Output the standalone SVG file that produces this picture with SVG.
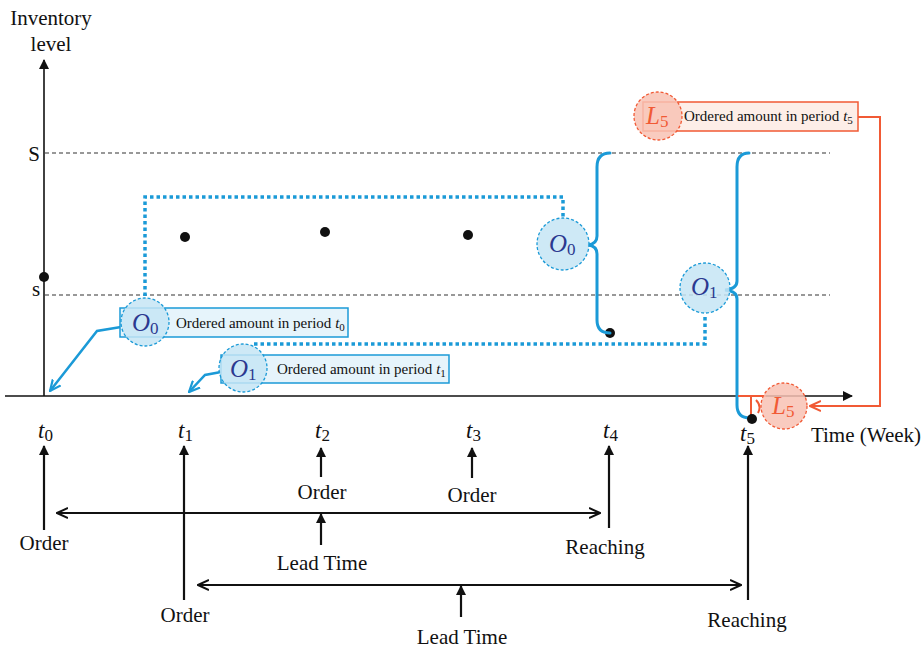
<svg xmlns="http://www.w3.org/2000/svg" width="923" height="648" viewBox="0 0 923 648">
<defs>
<style>
.t{font-family:"Liberation Serif","Times New Roman",serif;fill:#111;}
.lbl{font-size:21px;}
.ax{stroke:#111;stroke-width:1.6;fill:none;}
.ar{stroke:#111;stroke-width:2.2;fill:none;}
.dash{stroke:#333;stroke-width:1.2;stroke-dasharray:4 3;fill:none;}
.dot{stroke:#1b9ad7;stroke-width:3.5;stroke-dasharray:3.5 3;fill:none;}
.brace{stroke:#1b9ad7;stroke-width:3;fill:none;stroke-linecap:round;}
.bline{stroke:#1b9ad7;stroke-width:2.5;fill:none;}
.oline{stroke:#f15a35;stroke-width:2;fill:none;}
.bcirc{fill:#c6e5f5;fill-opacity:0.85;stroke:#1b9ad7;stroke-width:1.3;stroke-dasharray:3 2;}
.ocirc{fill:#f8c2b4;fill-opacity:0.85;stroke:#f15a35;stroke-width:1.3;stroke-dasharray:3 2;}
.bbox{fill:#e6f4fb;stroke:#1b9ad7;stroke-width:1.5;}
.obox{fill:#fdeee8;stroke:#f15a35;stroke-width:1.5;}
.ol{font-family:"Liberation Serif","Times New Roman",serif;font-style:italic;font-size:25px;fill:#2b3990;}
.ll{font-family:"Liberation Serif","Times New Roman",serif;font-style:italic;font-size:25px;fill:#f15a35;}
.sub{font-style:normal;font-size:17px;}
.note{font-family:"Liberation Serif","Times New Roman",serif;font-size:15px;fill:#111;}
.ti{font-family:"Liberation Serif","Times New Roman",serif;font-style:italic;font-size:23px;fill:#111;}
</style>
<marker id="ah" viewBox="0 0 10 10" refX="9" refY="5" markerWidth="10" markerHeight="10" markerUnits="userSpaceOnUse" orient="auto"><path d="M0,0 L10,5 L0,10 z" fill="#111"/></marker>
<marker id="ao" viewBox="0 0 12 12" refX="11" refY="6" markerWidth="12" markerHeight="12" markerUnits="userSpaceOnUse" orient="auto-start-reverse"><path d="M0,1 L11,6 L0,11" fill="none" stroke="#111" stroke-width="2"/></marker>
<marker id="ab" viewBox="0 0 12 12" refX="11" refY="6" markerWidth="12" markerHeight="12" markerUnits="userSpaceOnUse" orient="auto"><path d="M0,1 L11,6 L0,11" fill="none" stroke="#1b9ad7" stroke-width="2.2"/></marker>
<marker id="aor" viewBox="0 0 12 12" refX="11" refY="6" markerWidth="12" markerHeight="12" markerUnits="userSpaceOnUse" orient="auto"><path d="M0,1 L11,6 L0,11" fill="none" stroke="#f15a35" stroke-width="2"/></marker>
</defs>
<rect width="923" height="648" fill="#fff"/>

<g id="axes">
<line class="ax" x1="44" y1="396" x2="44" y2="60" marker-end="url(#ah)"/>
<line class="ax" x1="5" y1="396" x2="852" y2="396" marker-end="url(#ah)"/>
<text class="t lbl" x="51" y="25" text-anchor="middle">Inventory</text>
<text class="t lbl" x="51" y="51" text-anchor="middle">level</text>
<text class="t lbl" x="34" y="161" text-anchor="middle">S</text>
<text class="t lbl" x="36" y="296" text-anchor="middle">s</text>
<text class="t lbl" x="866" y="442" text-anchor="middle">Time (Week)</text>
<line class="dash" x1="45" y1="153" x2="830" y2="153"/>
<line class="dash" x1="45" y1="295" x2="830" y2="295"/>
</g>

<g id="points" fill="#111">
<circle cx="44" cy="277" r="5"/>
<circle cx="185" cy="237" r="5"/>
<circle cx="325" cy="232" r="5"/>
<circle cx="468" cy="235" r="5"/>
<circle cx="610" cy="333" r="5"/>
</g>

<g id="connectors">
<path class="dot" d="M145,296 L145,197 L563,197 L563,218"/>
<path class="dot" d="M254,344 L705,344 L705,314"/>
<path class="brace" d="M610,153 Q597,153 597,167 L597,236 Q597,244 588,245 Q597,246 597,254 L597,320 Q597,333 610,333"/>
<path class="brace" d="M749,153 Q737,153 737,167 L737,281 Q737,289 725,290 Q737,291 737,299 L737,405 Q737,418 750,418"/>
<path class="bline" d="M121,327 L97,331 L50,391" marker-end="url(#ab)"/>
<path class="bline" d="M221,372 L205,375 L189,392" marker-end="url(#ab)"/>
<path class="oline" d="M858,117 L880,117 L880,406 L810,406" marker-end="url(#aor)"/>
<path class="oline" d="M738,396 L766,396 M751,396 L751,417 M756,400 Q762,406 758,413"/>
</g>

<g id="t5dot"><circle cx="752" cy="419" r="5" fill="#111"/></g>

<g id="node-O0-note">
<rect class="bbox" x="120" y="308" width="228" height="29"/>
<circle class="bcirc" cx="145" cy="322" r="24"/>
<text class="ol" x="132" y="331">O<tspan class="sub" dy="3">0</tspan></text>
<text class="note" x="176" y="328">Ordered amount in period <tspan font-style="italic">t</tspan><tspan font-size="11" dy="3">0</tspan></text>
</g>

<g id="node-O1-note">
<rect class="bbox" x="221" y="355" width="228" height="28"/>
<circle class="bcirc" cx="243" cy="368" r="24"/>
<text class="ol" x="230" y="377">O<tspan class="sub" dy="3">1</tspan></text>
<text class="note" x="277" y="374">Ordered amount in period <tspan font-style="italic">t</tspan><tspan font-size="11" dy="3">1</tspan></text>
</g>

<g id="node-O0">
<circle class="bcirc" cx="563" cy="244" r="26"/>
<text class="ol" x="549" y="252">O<tspan class="sub" dy="3">0</tspan></text>
</g>

<g id="node-O1">
<circle class="bcirc" cx="705" cy="288" r="25"/>
<text class="ol" x="691" y="295">O<tspan class="sub" dy="3">1</tspan></text>
</g>

<g id="node-L5-note">
<rect class="obox" x="643" y="102" width="215" height="29"/>
<circle class="ocirc" cx="658" cy="116" r="24"/>
<text class="ll" x="646" y="124">L<tspan class="sub" dy="3">5</tspan></text>
<text class="note" x="684" y="121">Ordered amount in period <tspan font-style="italic">t</tspan><tspan font-size="11" dy="3">5</tspan></text>
</g>

<g id="node-L5">
<circle class="ocirc" cx="784" cy="406" r="23"/>
<text class="ll" x="772" y="414">L<tspan class="sub" dy="3">5</tspan></text>
</g>

<g id="time-labels">
<text class="ti" x="38" y="438">t<tspan class="sub" dy="3">0</tspan></text>
<text class="ti" x="178" y="438">t<tspan class="sub" dy="3">1</tspan></text>
<text class="ti" x="315" y="438">t<tspan class="sub" dy="3">2</tspan></text>
<text class="ti" x="466" y="438">t<tspan class="sub" dy="3">3</tspan></text>
<text class="ti" x="603" y="438">t<tspan class="sub" dy="3">4</tspan></text>
<text class="ti" x="740" y="441">t<tspan class="sub" dy="3">5</tspan></text>
</g>

<g id="timeline">
<line class="ar" x1="44" y1="530" x2="44" y2="446" marker-end="url(#ah)"/>
<line class="ar" x1="184" y1="600" x2="184" y2="446" marker-end="url(#ah)"/>
<line class="ar" x1="321" y1="477" x2="321" y2="448" marker-end="url(#ah)"/>
<line class="ar" x1="472" y1="478" x2="472" y2="448" marker-end="url(#ah)"/>
<line class="ar" x1="609" y1="528" x2="609" y2="446" marker-end="url(#ah)"/>
<line class="ar" x1="748" y1="600" x2="748" y2="446" marker-end="url(#ah)"/>
<line class="ar" x1="57" y1="513" x2="600" y2="513" marker-start="url(#ao)" marker-end="url(#ao)"/>
<line class="ar" x1="321" y1="545" x2="321" y2="514" marker-end="url(#ah)"/>
<line class="ar" x1="198" y1="585" x2="741" y2="585" marker-start="url(#ao)" marker-end="url(#ao)"/>
<line class="ar" x1="461" y1="617" x2="461" y2="586" marker-end="url(#ah)"/>
<text class="t lbl" x="44" y="550" text-anchor="middle">Order</text>
<text class="t lbl" x="185" y="622" text-anchor="middle">Order</text>
<text class="t lbl" x="322" y="499" text-anchor="middle">Order</text>
<text class="t lbl" x="472" y="502" text-anchor="middle">Order</text>
<text class="t lbl" x="605" y="554" text-anchor="middle">Reaching</text>
<text class="t lbl" x="747" y="627" text-anchor="middle">Reaching</text>
<text class="t lbl" x="322" y="570" text-anchor="middle">Lead Time</text>
<text class="t lbl" x="462" y="644" text-anchor="middle">Lead Time</text>
</g>
</svg>
